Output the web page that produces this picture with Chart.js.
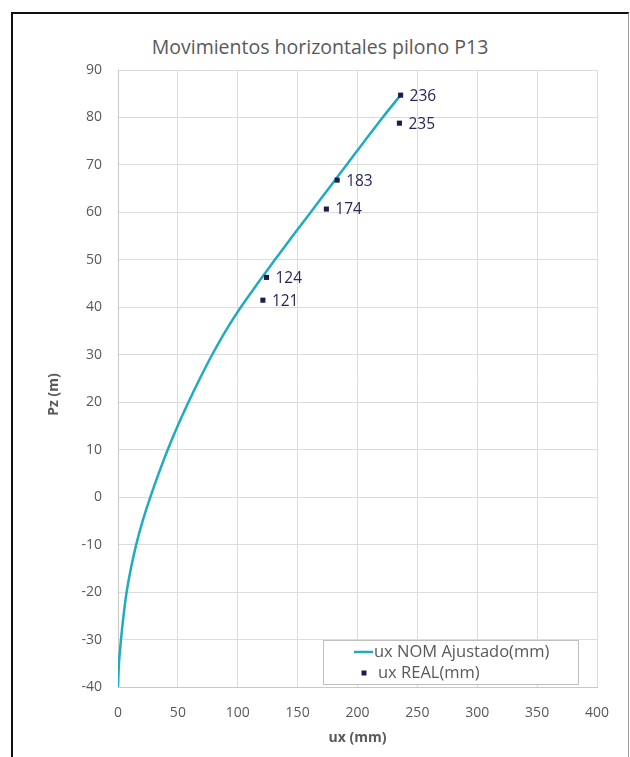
<!DOCTYPE html>
<html>
<head>
<meta charset="utf-8">
<script src="https://cdn.jsdelivr.net/npm/chart.js@4"></script>
<style>
  html, body { margin: 0; padding: 0; background: #fff; overflow: hidden; }
  #wrap { position: relative; width: 630px; height: 757px; }
  #frame { position: absolute; left: 11px; top: 12px; width: 615px; height: 770px;
           border-top: 2px solid #111; border-left: 2px solid #111; border-right: 1px solid #9a9a9a; }
  #ttl { position: absolute; left: 0; width: 640px; top: 33px; text-align: center;
         font: 19.5px 'Open Sans', sans-serif; color: #595959; }
  canvas { position: absolute; left: 0; top: 0; }
</style>
</head>
<body>
<div id="wrap">
  <div id="frame"></div>
  <div id="ttl">Movimientos horizontales pilono P13</div>
  <canvas id="c" width="630" height="757"></canvas>
</div>
<script>
// Fitted nominal horizontal displacement along the pylon height
const pzLevels   = [-40, -35, -30, -25, -20, -15, -10, -5, 0, 5, 10, 15, 20, 25, 30, 35, 40, 45, 50, 55, 60, 65, 70, 75, 80, 84.7];
const uxNominal  = [0, 0.8, 2.5, 4.6, 7.2, 10.8, 15.2, 20.6, 27, 34, 41.5, 49.8, 58.8, 68.4, 78.6, 89.8, 102.5, 116.5, 131, 145.8, 160.8, 175.8, 190.8, 205.8, 221, 236];

// Measured displacements (mm) and their heights (m)
const realUx = [236, 235, 183, 174, 124, 121];
const realPz = [84.7, 78.8, 66.8, 60.7, 46.3, 41.5];

// Axis tick ranges
const xTicks = { min: 0, max: 400, step: 50 };
const yTicks = { min: -40, max: 90, step: 10 };

const seriesNames = ['ux NOM Ajustado(mm)', 'ux REAL(mm)'];
const lineColor = '#1fabc0';
const markColor = '#1e1c4e';
const textGrey = '#595959';
const FONT = "'Open Sans', sans-serif";

const nominalPts = pzLevels.map((z, i) => ({ x: uxNominal[i], y: z }));
const realPts = realUx.map((u, i) => ({ x: u, y: realPz[i] }));

// Value labels next to each measured point
const pointLabels = {
  id: 'pointLabels',
  afterDatasetsDraw(chart) {
    const meta = chart.getDatasetMeta(1);
    const ctx = chart.ctx;
    ctx.save();
    ctx.font = "15.5px " + FONT;
    ctx.fillStyle = '#27265a';
    ctx.textBaseline = 'middle';
    ctx.textAlign = 'left';
    meta.data.forEach((el, i) => {
      ctx.fillText(String(chart.data.datasets[1].data[i].x), el.x + 9, el.y + 1);
    });
    ctx.restore();
  }
};

// Framed legend inside the plot area, lower right
const boxLegend = {
  id: 'boxLegend',
  afterDraw(chart) {
    const ctx = chart.ctx;
    const a = chart.chartArea;
    const w = 255, h = 44;
    const x0 = a.right - 19 - w, y0 = a.bottom - 3 - h;
    ctx.save();
    ctx.fillStyle = '#fff';
    ctx.fillRect(x0, y0, w, h);
    ctx.strokeStyle = '#bfbfbf';
    ctx.lineWidth = 1;
    ctx.strokeRect(Math.round(x0) + 0.5, Math.round(y0) + 0.5, w, h);
    const ds = chart.data.datasets;
    ctx.font = "16.5px " + FONT;
    ctx.fillStyle = textGrey;
    ctx.textBaseline = 'middle';
    // line entry
    const r1 = y0 + 12;
    ctx.strokeStyle = ds[0].borderColor;
    ctx.lineWidth = 2.5;
    ctx.beginPath();
    ctx.moveTo(x0 + 31, r1); ctx.lineTo(x0 + 50, r1); ctx.stroke();
    ctx.fillText(ds[0].label, x0 + 51, r1);
    // marker entry
    const r2 = y0 + 33;
    ctx.fillStyle = ds[1].backgroundColor;
    ctx.fillRect(x0 + 38.5, r2 - 2.5, 5, 5);
    ctx.fillStyle = textGrey;
    ctx.fillText(ds[1].label, x0 + 55, r2);
    ctx.restore();
  }
};

// Rotated vertical axis title
const yTitle = {
  id: 'yTitle',
  afterDraw(chart) {
    const ctx = chart.ctx;
    const a = chart.chartArea;
    ctx.save();
    ctx.translate(54, (a.top + a.bottom) / 2 + 16);
    ctx.rotate(-Math.PI / 2);
    ctx.font = "bold 14px " + FONT;
    ctx.fillStyle = textGrey;
    ctx.textAlign = 'center';
    ctx.textBaseline = 'middle';
    ctx.fillText('Pz (m)', 0, 0);
    ctx.restore();
  }
};

new Chart(document.getElementById('c'), {
  type: 'scatter',
  data: {
    datasets: [
      {
        label: seriesNames[0],
        data: nominalPts,
        showLine: true,
        borderColor: lineColor,
        backgroundColor: lineColor,
        borderWidth: 2.5,
        pointRadius: 0,
        tension: 0.3,
        order: 2
      },
      {
        label: seriesNames[1],
        data: realPts,
        showLine: false,
        pointStyle: 'rect',
        pointRadius: 3.6,
        borderWidth: 0,
        backgroundColor: markColor,
        borderColor: markColor,
        order: 1
      }
    ]
  },
  options: {
    responsive: false,
    animation: false,
    layout: { padding: { top: 70, right: 33, left: 0, bottom: 0 } },
    plugins: {
      legend: { display: false },
      title: { display: false },
      tooltip: { enabled: false }
    },
    scales: {
      x: {
        type: 'linear',
        min: xTicks.min, max: xTicks.max,
        ticks: { stepSize: xTicks.step, color: textGrey, font: { family: FONT, size: 14 }, padding: 18 },
        grid: { color: '#dcdcdc', drawTicks: false },
        border: { color: '#c8c8c8' },
        title: { display: true, text: 'ux (mm)', color: textGrey, font: { family: FONT, size: 14, weight: 'bold' }, padding: { top: 0, bottom: 11 } },
        afterFit(s) { s.height = 70; }
      },
      y: {
        type: 'linear',
        min: yTicks.min, max: yTicks.max,
        ticks: { stepSize: yTicks.step, color: textGrey, font: { family: FONT, size: 14 }, padding: 16 },
        grid: { color: '#dcdcdc', drawTicks: false },
        border: { color: '#c8c8c8' },
        afterFit(s) { s.width = 118; }
      }
    }
  },
  plugins: [pointLabels, boxLegend, yTitle]
});
</script>
</body>
</html>
